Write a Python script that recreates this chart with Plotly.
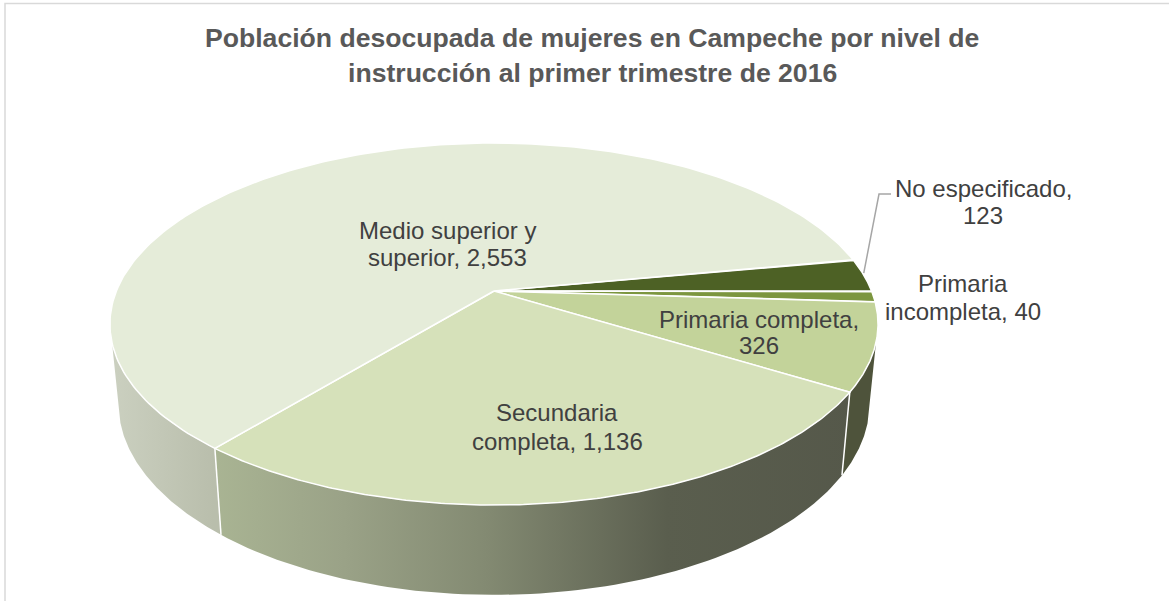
import math
import plotly.graph_objects as go

title_lines = ["Población desocupada de mujeres en Campeche por nivel de",
               "instrucción al primer trimestre de 2016"]
categories = ["No especificado", "Primaria incompleta", "Primaria completa",
              "Secundaria completa", "Medio superior y superior"]
values = [123, 40, 326, 1136, 2553]
face_colors = ["#4D6125", "#7C963F", "#C3D39A", "#D6E1BA", "#E5ECD9"]
# label wording with its line break, same order as categories
label_parts = [("No especificado,", "{}"), ("Primaria", "incompleta, {}"),
               ("Primaria completa,", "{}"), ("Secundaria", "completa, {:,}"),
               ("Medio superior y", "superior, {:,}")]
label_x = [983, 963, 759, 557, 447]
label_y = [(188, 215), (283, 311), (319, 345), (412, 441), (230, 257)]

# projection of the tilted disc
CX, CY, RX, RY, K, DEPTH, SHRINK = 494, 291, 377.6, 175, 0.1825, 79, 0.978
START = 79.4
VIS_R, VIS_L = 106.3, 253.7


def top(deg):
    t = math.radians(deg)
    u, v = math.sin(t), -math.cos(t)
    s = 1 / (1 - K * v)
    return CX + RX * u * s, CY + RY * v * s


def bottom(deg):
    t = math.radians(deg)
    u, v = math.sin(t), -math.cos(t)
    s = SHRINK / (1 - K * v)
    return CX + RX * u * s, CY + (RY * v + DEPTH) * s


def arc(fn, a, b, n=80):
    pts = [fn(a + (b - a) * i / n) for i in range(n + 1)]
    return [p[0] for p in pts], [p[1] for p in pts]


total = sum(values)
bounds = [START]
for val in values:
    bounds.append(bounds[-1] + val / total * 360)

fig = go.Figure()


def wall(a, b, stops, x0, x1):
    xt, yt = arc(top, a, b)
    xb, yb = arc(bottom, b, a)
    fig.add_trace(go.Scatter(
        x=xt + xb + xt[:1], y=yt + yb + yt[:1], mode="lines", fill="toself",
        line=dict(width=0), hoverinfo="skip", showlegend=False,
        fillgradient=dict(type="horizontal", colorscale=stops, start=x0, stop=x1)))


# side walls
wall(VIS_R, bounds[3], [[0, "#4E533B"], [1, "#4E533B"]], 840, 880)
wall(bounds[3], bounds[4],
     [[0, "#A9B493"], [0.2, "#9AA287"], [0.42, "#838A72"], [0.7, "#5A5E4E"], [1, "#55584A"]], 215, 860)
wall(bounds[4], VIS_L, [[0, "#B9BEAC"], [1, "#CBD0C0"]], 214, 111)

# white separators on the wall
for b in (bounds[3], bounds[4]):
    p, q = top(b), bottom(b)
    fig.add_trace(go.Scatter(x=[p[0], q[0]], y=[p[1], q[1]], mode="lines",
                             line=dict(color="white", width=1.5),
                             hoverinfo="skip", showlegend=False))

# top faces
for i, color in enumerate(face_colors):
    xs, ys = arc(top, bounds[i], bounds[i + 1], 200)
    fig.add_trace(go.Scatter(
        x=[CX] + xs + [CX], y=[CY] + ys + [CY], mode="lines", fill="toself",
        fillcolor=color, line=dict(color="white", width=1.5),
        hoverinfo="skip", showlegend=False, name=categories[i]))

# leader line of the first label
p = top((bounds[0] + bounds[1]) / 2)
fig.add_trace(go.Scatter(x=[p[0], 879, 891], y=[p[1] - 2, 194, 194], mode="lines",
                         line=dict(color="#A6A6A6", width=1.5),
                         hoverinfo="skip", showlegend=False))

annotations = []
for (a, b), val, x, ys in zip(label_parts, values, label_x, label_y):
    for line, y in zip((a, b.format(val)), ys):
        annotations.append(dict(x=x, y=y, xref="x", yref="y", showarrow=False,
                                text=line, align="center",
                                font=dict(family="Liberation Sans", size=24, color="#404040")))
for line, (x, y) in zip(title_lines, [(592, 38), (592, 73)]):
    annotations.append(dict(x=x, y=y, xref="x", yref="y", showarrow=False, text="<b>%s</b>" % line,
                            font=dict(family="Liberation Sans", size=26.6, color="#595959")))

fig.update_layout(
    width=1169, height=601, margin=dict(l=0, r=0, t=0, b=0), autosize=False,
    paper_bgcolor="white", plot_bgcolor="white", showlegend=False,
    annotations=annotations,
    xaxis=dict(range=[0, 1169], visible=False, fixedrange=True),
    yaxis=dict(range=[601, 0], visible=False, fixedrange=True),
    shapes=[dict(type="rect", xref="x", yref="y", x0=5, y0=3.5, x1=1180, y1=640,
                 line=dict(color="#D9D9D9", width=1.5))],
)
fig.write_html("out.html", config={"displayModeBar": False},
               post_script="document.body.style.margin='0';document.body.style.overflow='hidden';")
